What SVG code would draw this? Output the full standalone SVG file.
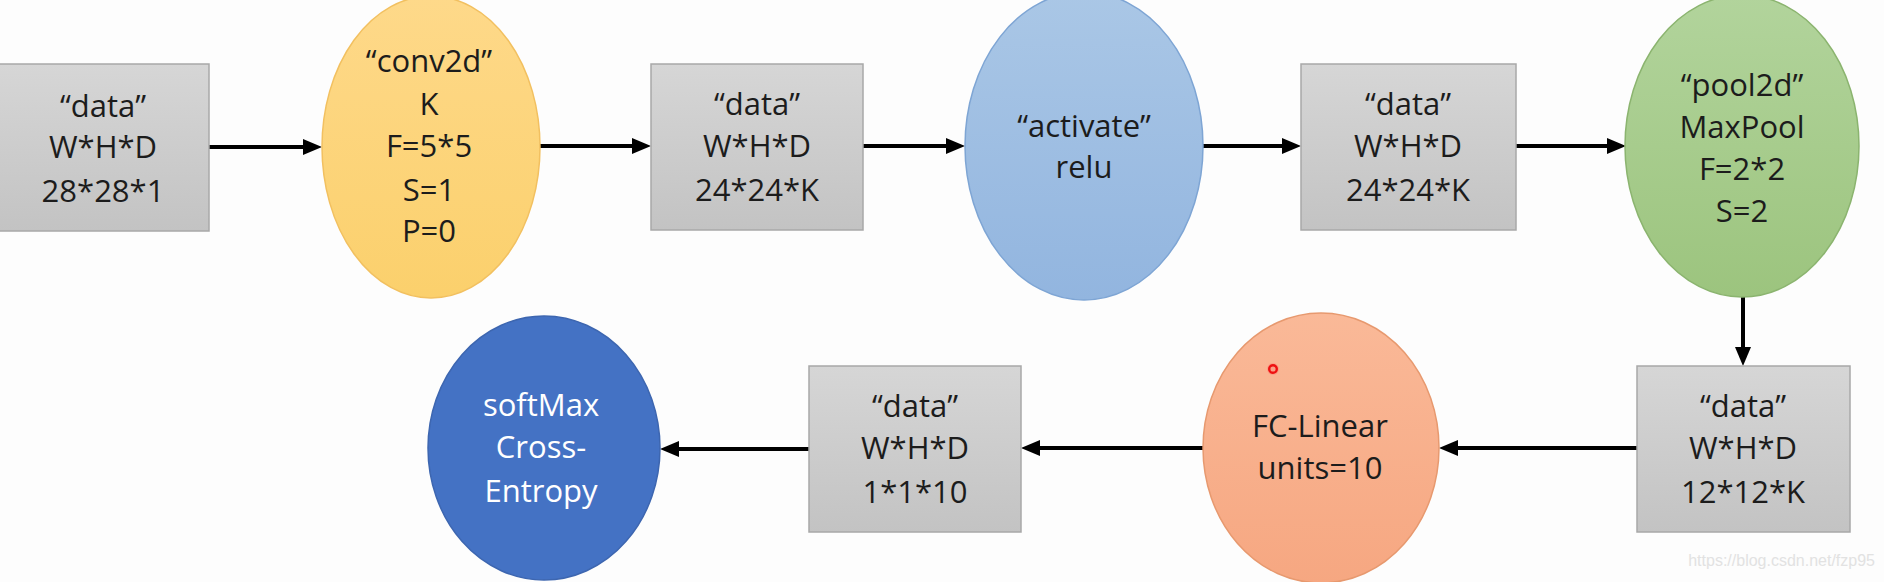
<svg xmlns="http://www.w3.org/2000/svg" width="1884" height="582" viewBox="0 0 1884 582">
  <defs>
    <linearGradient id="gBox" x1="0" y1="0" x2="0" y2="1">
      <stop offset="0" stop-color="#d6d6d6"/>
      <stop offset="1" stop-color="#c3c3c3"/>
    </linearGradient>
    <linearGradient id="gYellow" x1="0" y1="0" x2="0" y2="1">
      <stop offset="0" stop-color="#fed98a"/>
      <stop offset="1" stop-color="#fbd06c"/>
    </linearGradient>
    <linearGradient id="gBlue" x1="0" y1="0" x2="0" y2="1">
      <stop offset="0" stop-color="#aac7e6"/>
      <stop offset="1" stop-color="#92b5df"/>
    </linearGradient>
    <linearGradient id="gGreen" x1="0" y1="0" x2="0" y2="1">
      <stop offset="0" stop-color="#b2d49c"/>
      <stop offset="1" stop-color="#9cc47e"/>
    </linearGradient>
    <linearGradient id="gOrange" x1="0" y1="0" x2="0" y2="1">
      <stop offset="0" stop-color="#fab998"/>
      <stop offset="1" stop-color="#f6a781"/>
    </linearGradient>
    <marker id="arrow" markerUnits="userSpaceOnUse" markerWidth="19" markerHeight="16" refX="0" refY="8" orient="auto">
      <path d="M0,0 L19,8 L0,16 z" fill="#000"/>
    </marker>
    <style>
      .box { fill: url(#gBox); stroke: #a8a8a8; stroke-width: 1.5; }
      .t { font-family: "Open Sans", "Liberation Sans", sans-serif; font-size: 31px; fill: #1c1c1c; text-anchor: middle; }
      .tw { fill: #ffffff; }
      .conn line { stroke: #000; stroke-width: 4; marker-end: url(#arrow); }
      .wm { font-family: "Liberation Sans", Arial, sans-serif; font-size: 16px; fill: #e2e2e2; text-anchor: end; }
    </style>
  </defs>
  <rect x="0" y="0" width="1884" height="582" fill="#fdfdfd"/>

  <g class="conn" id="connectors">
    <line x1="209" y1="147" x2="303" y2="147"/>
    <line x1="540" y1="146" x2="632" y2="146"/>
    <line x1="863" y1="146" x2="946" y2="146"/>
    <line x1="1203" y1="146" x2="1282" y2="146"/>
    <line x1="1516" y1="146" x2="1607" y2="146"/>
    <line x1="1743" y1="297" x2="1743" y2="347"/>
    <line x1="1637" y1="448" x2="1458" y2="448"/>
    <line x1="1203" y1="448" x2="1040" y2="448"/>
    <line x1="809" y1="449" x2="679" y2="449"/>
  </g>

  <g id="data1">
    <rect class="box" x="-1" y="64" width="210" height="167"/>
    <text class="t" x="103" y="117">“data”</text>
    <text class="t" x="103" y="158">W*H*D</text>
    <text class="t" x="103" y="202">28*28*1</text>
  </g>

  <g id="conv2d">
    <ellipse cx="431" cy="147" rx="109" ry="151" fill="url(#gYellow)" stroke="#f2c060" stroke-width="1.5"/>
    <text class="t" x="429" y="72">“conv2d”</text>
    <text class="t" x="429" y="115">K</text>
    <text class="t" x="429" y="157">F=5*5</text>
    <text class="t" x="429" y="201">S=1</text>
    <text class="t" x="429" y="242">P=0</text>
  </g>

  <g id="data2">
    <rect class="box" x="651" y="64" width="212" height="166"/>
    <text class="t" x="757" y="115">“data”</text>
    <text class="t" x="757" y="157">W*H*D</text>
    <text class="t" x="757" y="201">24*24*K</text>
  </g>

  <g id="activate">
    <ellipse cx="1084" cy="146" rx="119" ry="154" fill="url(#gBlue)" stroke="#7ea5d4" stroke-width="1.5"/>
    <text class="t" x="1084" y="137">“activate”</text>
    <text class="t" x="1084" y="178">relu</text>
  </g>

  <g id="data3">
    <rect class="box" x="1301" y="64" width="215" height="166"/>
    <text class="t" x="1408" y="115">“data”</text>
    <text class="t" x="1408" y="157">W*H*D</text>
    <text class="t" x="1408" y="201">24*24*K</text>
  </g>

  <g id="pool2d">
    <ellipse cx="1742" cy="146" rx="117" ry="151" fill="url(#gGreen)" stroke="#8bb46f" stroke-width="1.5"/>
    <text class="t" x="1742" y="96">“pool2d”</text>
    <text class="t" x="1742" y="138">MaxPool</text>
    <text class="t" x="1742" y="180">F=2*2</text>
    <text class="t" x="1742" y="222">S=2</text>
  </g>

  <g id="data4">
    <rect class="box" x="1637" y="366" width="213" height="166"/>
    <text class="t" x="1743" y="417">“data”</text>
    <text class="t" x="1743" y="459">W*H*D</text>
    <text class="t" x="1743" y="503">12*12*K</text>
  </g>

  <g id="fc-linear">
    <ellipse cx="1321" cy="448" rx="118" ry="135" fill="url(#gOrange)" stroke="#e7996f" stroke-width="1.5"/>
    <text class="t" x="1320" y="437">FC-Linear</text>
    <text class="t" x="1320" y="479">units=10</text>
    <circle cx="1273" cy="369" r="6" fill="#ff6060" opacity="0.25"/>
    <circle cx="1273" cy="369" r="3.8" fill="none" stroke="#ee1111" stroke-width="2.4"/>
  </g>

  <g id="data5">
    <rect class="box" x="809" y="366" width="212" height="166"/>
    <text class="t" x="915" y="417">“data”</text>
    <text class="t" x="915" y="459">W*H*D</text>
    <text class="t" x="915" y="503">1*1*10</text>
  </g>

  <g id="softmax">
    <ellipse cx="544" cy="448" rx="116" ry="132" fill="#4472c4" stroke="#3d66b0" stroke-width="1.5"/>
    <text class="t tw" x="541" y="416">softMax</text>
    <text class="t tw" x="541" y="458">Cross-</text>
    <text class="t tw" x="541" y="502">Entropy</text>
  </g>

  <text class="wm" x="1875" y="566">https://blog.csdn.net/fzp95</text>
</svg>
